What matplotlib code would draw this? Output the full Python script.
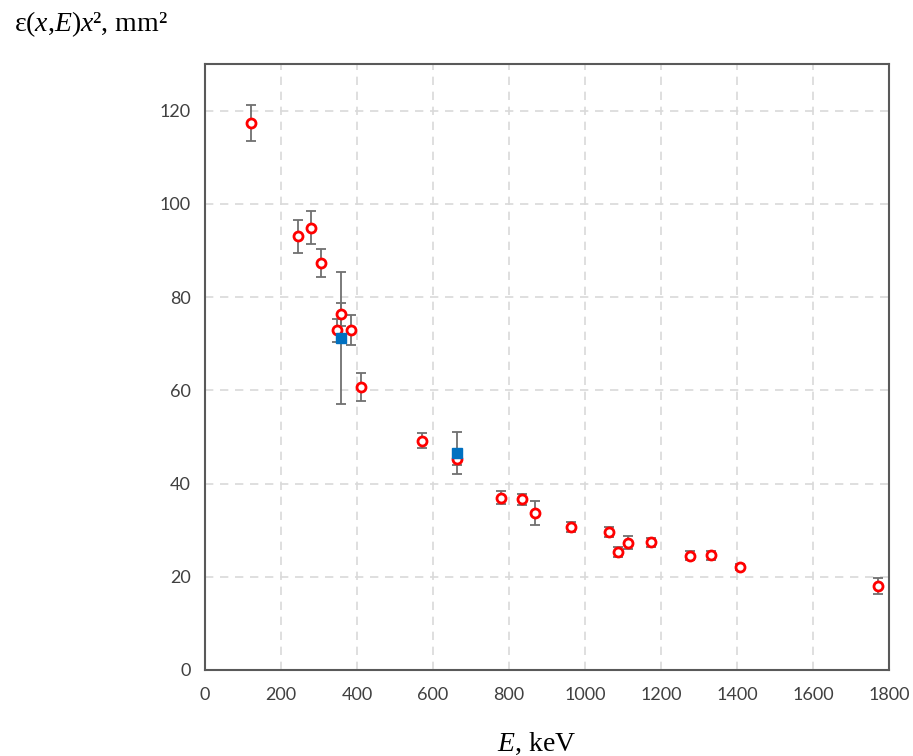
import matplotlib
matplotlib.use("Agg")
import matplotlib.pyplot as plt

plt.rcParams['mathtext.fontset'] = 'custom'
plt.rcParams['mathtext.rm'] = 'Liberation Serif'
plt.rcParams['mathtext.it'] = 'Liberation Serif:italic'

# Point-source efficiency times distance squared vs gamma energy
energy = [122, 245, 279, 306, 347, 357, 384, 411, 570, 662, 780, 835, 868,
          964, 1064, 1086, 1112, 1173, 1275, 1332, 1408, 1770]
eff = [117.4, 93.0, 94.9, 87.4, 72.9, 76.3, 72.9, 60.7, 49.2, 45.2, 37.0,
       36.6, 33.6, 30.6, 29.6, 25.3, 27.3, 27.4, 24.5, 24.6, 22.1, 18.1]
eff_err = [3.9, 3.6, 3.5, 3.0, 2.5, 2.4, 3.2, 3.0, 1.6, 1.3, 1.4, 1.25, 2.6,
           1.1, 1.0, 1.0, 1.4, 1.0, 1.0, 0.9, 0.7, 1.7]

# Reference measurements
ref_energy = [358, 662]
ref_eff = [71.2, 46.6]
ref_err = [14.2, 4.5]

fig = plt.figure(figsize=(9.13, 7.56), dpi=100)
ax = fig.add_axes([205/913, 86/756, 684/913, 606/756])

ax.errorbar(energy, eff, yerr=eff_err, fmt='none', ecolor='#707070',
            elinewidth=1.3, capsize=3.5, capthick=1.3, zorder=3)
ax.errorbar(ref_energy, ref_eff, yerr=ref_err, fmt='none', ecolor='#707070',
            elinewidth=1.3, capsize=3.5, capthick=1.3, zorder=3)
ax.plot(energy, eff, linestyle='none', marker='o', markersize=6.5,
        markerfacecolor='white', markeredgecolor='#ff0000',
        markeredgewidth=2.0, zorder=4)
ax.plot(ref_energy, ref_eff, linestyle='none', marker='s', markersize=7.5,
        markerfacecolor='#0070c0', markeredgecolor='#0070c0', zorder=5)

ax.set_xlim(0, 1800)
ax.set_ylim(0, 130)
ax.set_xticks(range(0, 1801, 200))
ax.set_yticks(range(0, 121, 20))
ax.grid(True, color='#d9d9d9', linestyle=(0, (5, 4)), linewidth=1.2)
ax.set_axisbelow(True)
ax.tick_params(axis='x', length=0, pad=12, labelsize=13, labelcolor='#404040')
ax.tick_params(axis='y', length=0, pad=10, labelsize=13, labelcolor='#404040')
for lab in ax.get_xticklabels() + ax.get_yticklabels():
    lab.set_fontfamily('Lato')
for sp in ax.spines.values():
    sp.set_color('#595959')
    sp.set_linewidth(1.5)

fig.text(537/913, 1 - 744/756, r'$E$, keV', ha='center', va='center',
         fontsize=20, family='Liberation Serif')
fig.text(14/913, 1 - 24/756, r'ε($x$,$E$)$x$², mm²',
         ha='left', va='center', fontsize=20, family='Liberation Serif')

fig.savefig('out.png', dpi=100, facecolor='white')
